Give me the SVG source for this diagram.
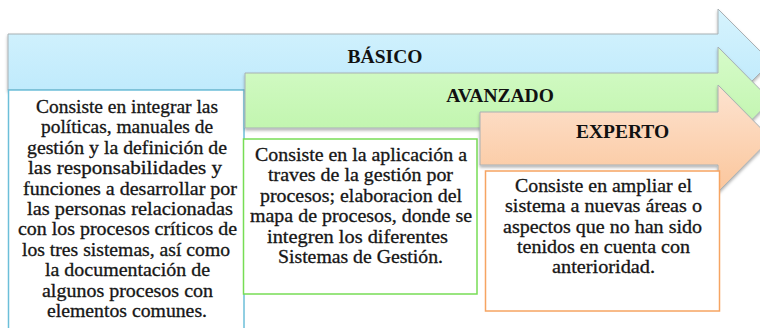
<svg xmlns="http://www.w3.org/2000/svg" width="760" height="328" viewBox="0 0 760 328">
<defs>
<linearGradient id="gB" x1="0" y1="0" x2="0" y2="1"><stop offset="0" stop-color="#d6f3fd"/><stop offset="1" stop-color="#b9e8fc"/></linearGradient>
<linearGradient id="gG" x1="0" y1="0" x2="0" y2="1"><stop offset="0" stop-color="#d6fbc9"/><stop offset="1" stop-color="#bcf4a8"/></linearGradient>
<linearGradient id="gO" x1="0" y1="0" x2="0" y2="1"><stop offset="0" stop-color="#fde3d0"/><stop offset="1" stop-color="#fbc69c"/></linearGradient>
<filter id="sh" x="-5%" y="-10%" width="110%" height="130%"><feDropShadow dx="0" dy="2" stdDeviation="1.5" flood-color="#000" flood-opacity="0.3"/></filter>
</defs>
<style>
.arrow{stroke:#a8b0b4;stroke-width:1;filter:url(#sh)}
.head{font-family:'Liberation Serif','DejaVu Serif',serif;font-size:19.5px;font-weight:bold;fill:#111;text-anchor:middle}
.body{font-family:'Liberation Serif','DejaVu Serif',serif;font-size:18px;fill:#161616;stroke:#161616;stroke-width:0.3;text-anchor:middle}
.box{fill:#fff;stroke-width:1.5}
</style>
<rect width="760" height="328" fill="#fff"/>
<g id="basico">
<path class="arrow" d="M8,34 H718 V9 L771,62 L718,115 V90 H8 Z" fill="url(#gB)"/>
<text class="head" x="385" y="63">BÁSICO</text>
</g>
<g id="basico-text">
<rect class="box" x="8.5" y="90" width="235.5" height="250" stroke="#6cbfd9"/>
<text class="body" x="127" y="113" textLength="182" lengthAdjust="spacingAndGlyphs">Consiste en integrar las</text>
<text class="body" x="127" y="133.4" textLength="172" lengthAdjust="spacingAndGlyphs">políticas, manuales de</text>
<text class="body" x="127" y="153.8" textLength="200" lengthAdjust="spacingAndGlyphs">gestión y la definición de</text>
<text class="body" x="125" y="174.2" textLength="194" lengthAdjust="spacingAndGlyphs">las responsabilidades y</text>
<text class="body" x="130" y="194.6" textLength="214" lengthAdjust="spacingAndGlyphs">funciones a desarrollar por</text>
<text class="body" x="130" y="215" textLength="206" lengthAdjust="spacingAndGlyphs">las personas relacionadas</text>
<text class="body" x="127.5" y="235.4" textLength="219" lengthAdjust="spacingAndGlyphs">con los procesos críticos de</text>
<text class="body" x="126" y="255.8" textLength="208" lengthAdjust="spacingAndGlyphs">los tres sistemas, así como</text>
<text class="body" x="127.5" y="276.2" textLength="165" lengthAdjust="spacingAndGlyphs">la documentación de</text>
<text class="body" x="127.5" y="296.6" textLength="171" lengthAdjust="spacingAndGlyphs">algunos procesos con</text>
<text class="body" x="127" y="317" textLength="160" lengthAdjust="spacingAndGlyphs">elementos comunes.</text>
</g>
<g id="avanzado">
<path class="arrow" d="M245,73 H718 V47 L771,100.5 L718,154 V128 H245 Z" fill="url(#gG)"/>
<text class="head" x="500" y="102">AVANZADO</text>
</g>
<g id="avanzado-text">
<rect class="box" x="243.5" y="139" width="233.5" height="155" stroke="#77dd55"/>
<text class="body" x="361" y="161" textLength="212" lengthAdjust="spacingAndGlyphs">Consiste en la aplicación a</text>
<text class="body" x="360.5" y="181.4" textLength="185" lengthAdjust="spacingAndGlyphs">traves de la gestión por</text>
<text class="body" x="361" y="201.8" textLength="202" lengthAdjust="spacingAndGlyphs">procesos; elaboracion del</text>
<text class="body" x="361" y="222.2" textLength="222" lengthAdjust="spacingAndGlyphs">mapa de procesos, donde se</text>
<text class="body" x="357.5" y="242.6" textLength="181" lengthAdjust="spacingAndGlyphs">integren los diferentes</text>
<text class="body" x="360.5" y="263" textLength="165" lengthAdjust="spacingAndGlyphs">Sistemas de Gestión.</text>
</g>
<g id="experto">
<path class="arrow" d="M480,112 H718 V85 L771,138.5 L718,192 V165 H480 Z" fill="url(#gO)"/>
<text class="head" x="622.5" y="138">EXPERTO</text>
</g>
<g id="experto-text">
<rect class="box" x="485.5" y="171" width="234" height="140" stroke="#f6a462"/>
<text class="body" x="603.5" y="192" textLength="177" lengthAdjust="spacingAndGlyphs">Consiste en ampliar el</text>
<text class="body" x="603.5" y="212.25" textLength="197" lengthAdjust="spacingAndGlyphs">sistema a nuevas áreas o</text>
<text class="body" x="602.5" y="232.5" textLength="199" lengthAdjust="spacingAndGlyphs">aspectos que no han sido</text>
<text class="body" x="603.5" y="252.75" textLength="173" lengthAdjust="spacingAndGlyphs">tenidos en cuenta con</text>
<text class="body" x="603.5" y="273" textLength="103" lengthAdjust="spacingAndGlyphs">anterioridad.</text>
</g>
<g id="connectors"></g>
</svg>
